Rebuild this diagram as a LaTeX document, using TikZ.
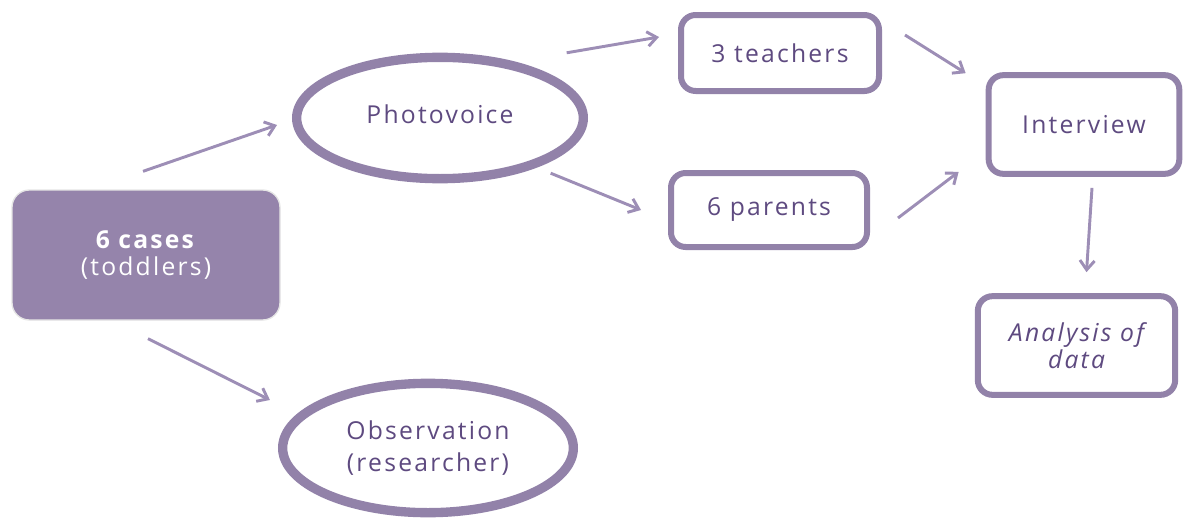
\documentclass[tikz,border=0pt]{standalone}
\usepackage{fontspec}
\setmainfont{Open Sans}[LetterSpace=9]
\usetikzlibrary{arrows.meta,shapes.geometric}
\definecolor{frame}{HTML}{9282A9}
\definecolor{fillp}{HTML}{9584AB}
\definecolor{arrc}{HTML}{9D8EB6}
\definecolor{txt}{HTML}{5E4A80}
\tikzset{
  lbl/.style={font=\fontsize{18.5}{22}\selectfont, text=txt, align=center, inner sep=0pt},
  oval/.style={ellipse, draw=frame, line width=7pt, fill=white, lbl},
  rbox/.style={rectangle, rounded corners=11pt, draw=frame, line width=4.5pt, fill=white, lbl},
  casebox/.style={rectangle, rounded corners=13pt, fill=fillp, draw=gray!20, line width=1pt,
    font=\fontsize{18.5}{20.5}\selectfont, text=white, align=center},
  arr/.style={draw=arrc, line width=2.2pt, -{Straight Barb[length=7pt,width=11pt,line width=2.2pt]}}
}
\begin{document}
\begin{tikzpicture}[x=0.75pt,y=-0.75pt]
\useasboundingbox (0,0) rectangle (1183,518);
\node[casebox, minimum width=201pt, minimum height=97.5pt] (cases) at (146,255) {\textbf{6 cases}\\(toddlers)};
\node[oval, minimum width=215pt, minimum height=91pt, text depth=6pt] (photo) at (440,118) {Photovoice};
\node[oval, minimum width=218pt, minimum height=97pt, font=\fontsize{18.5}{24}\selectfont] (obs) at (428,448) {Observation\\(researcher)};
\node[rbox, minimum width=148.5pt, minimum height=57pt] (teach) at (780,53) {3 teachers};
\node[rbox, minimum width=147pt, minimum height=55.5pt] (par) at (769,210) {6 parents};
\node[rbox, minimum width=143pt, minimum height=74pt] (int) at (1084,124.5) {Interview};
\node[rbox, minimum width=148pt, minimum height=74pt, font=\fontsize{18.5}{20.5}\selectfont] (ana) at (1076.5,345.5) {\itshape Analysis of\\\itshape data};
\draw[arr] ([shift={(-3,-18)}]cases.north) -- ([shift={(-15,7)}]photo.west);
\draw[arr] ([shift={(2,18)}]cases.south) -- ([shift={(-52,1)}]obs.north west);
\draw[arr] ([shift={(22,-19)}]photo.north east) -- ([shift={(-19,-16)}]teach.west);
\draw[arr] ([shift={(6,9)}]photo.south east) -- ([shift={(-27,0)}]par.west);
\draw[arr] ([shift={(23,-18)}]teach.east) -- ([shift={(-20,1)}]int.north west);
\draw[arr] ([shift={(28,8)}]par.east) -- ([shift={(-27,-5)}]int.south west);
\draw[arr] ([shift={(8,11)}]int.south) -- ([shift={(10,-21)}]ana.north);
\end{tikzpicture}
\end{document}
